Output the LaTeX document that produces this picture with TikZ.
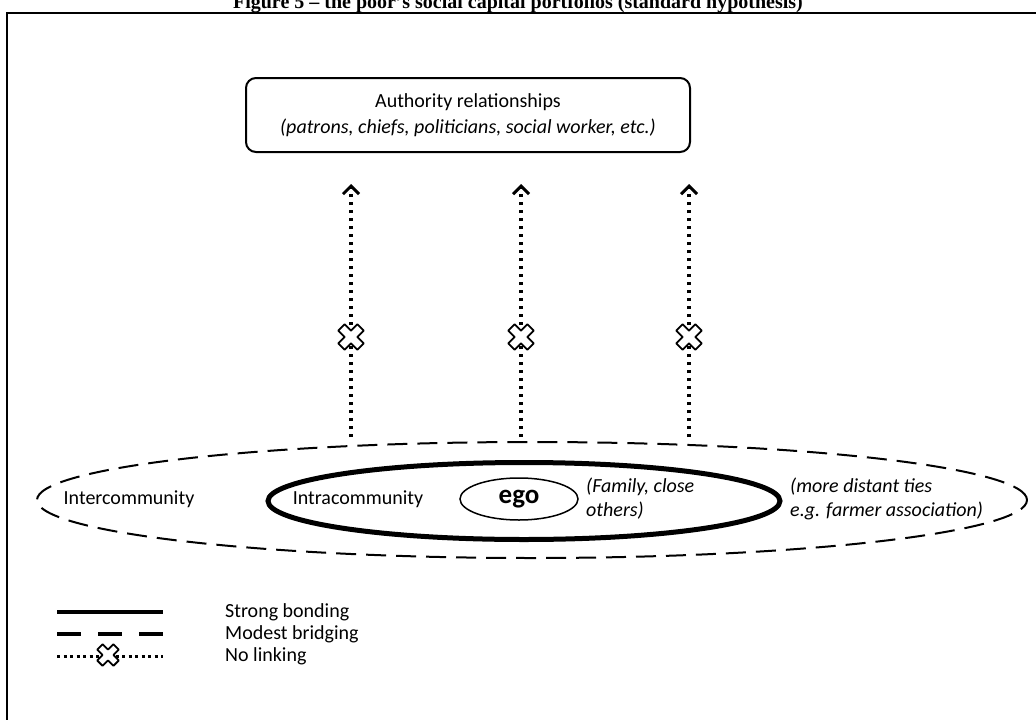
\documentclass[tikz,border=0pt]{standalone}
\usepackage{fontspec}
\setmainfont{Carlito}
\newfontfamily\titlefont[Ligatures=TeX]{Liberation Serif}
\usetikzlibrary{shapes.geometric,arrows.meta}

\tikzset{
  txt/.style={font=\fontsize{20}{24}\selectfont, inner sep=0pt},
  itxt/.style={txt, font=\fontsize{20}{24}\selectfont\itshape, align=left},
  authbox/.style={draw, line width=2pt, rounded corners=10pt, minimum width=444pt,
    minimum height=74pt, align=center, inner sep=0pt, font=\fontsize{20}{26}\selectfont},
  bridgering/.style={draw, ellipse, line width=2pt, dash pattern=on 20pt off 10pt,
    inner sep=0pt},
  bondring/.style={draw, ellipse, line width=5pt, inner sep=0pt},
  egoring/.style={draw, ellipse, line width=1.5pt, inner sep=0pt,
    font=\fontsize{27}{30}\selectfont\bfseries},
  linkarrow/.style={line width=3.5pt, dash pattern=on 3.5pt off 4.5pt,
    -{Straight Barb[length=8pt,width=16pt,line width=3pt]}},
  nolink/.pic={
    % a plus sign turned by 45 degrees, white inside
    \filldraw[solid, fill=white, line width=1.8pt, line join=round, rotate=45]
      (-4.5,13.5) -- (4.5,13.5) -- (4.5,4.5) -- (13.5,4.5) -- (13.5,-4.5) -- (4.5,-4.5)
      -- (4.5,-13.5) -- (-4.5,-13.5) -- (-4.5,-4.5) -- (-13.5,-4.5) -- (-13.5,4.5)
      -- (-4.5,4.5) -- cycle;
  },
}

\begin{document}
\begin{tikzpicture}[x=1pt,y=-1pt]
\useasboundingbox (0,0) rectangle (1036,720);
\clip (0,0) rectangle (1036,720);

% caption and frame
\node[anchor=base, inner sep=0pt, font=\titlefont\bfseries\fontsize{20}{24}\selectfont]
  (title) at (518,9) {Figure 5 – the poor's social capital portfolios (standard hypothesis)};
\draw[line width=2pt] (7,13) rectangle (1060,760);

% authority relationships
\node[authbox] (auth) at (468,115)
  {Authority relationships\\ \textit{(patrons, chiefs, politicians, social worker, etc.)}};

% community rings
\node[bridgering, minimum width=990pt, minimum height=116pt] (inter) at (532,500) {};
\node[bondring, minimum width=512pt, minimum height=77pt] (intra) at (524,501) {};
\node[egoring, minimum width=118pt, minimum height=42pt] (ego) at (519,499) {ego};

\node[txt] (intertxt) at (129,499) {Intercommunity};
\node[txt] (intratxt) at (358,499) {Intracommunity};
\node[itxt, anchor=west] (family) at (586,499) {(Family, close\\others)};
\node[itxt, anchor=west] (distant) at (790,499) {(more distant ties\\e.g. farmer association)};

% blocked links towards authority
\foreach \i/\x in {1/351, 2/521, 3/689} {
  \coordinate (s\i) at (\x,437);
  \coordinate (t\i) at (\x,184);
  \draw[linkarrow] (s\i) -- (t\i);
  \pic (x\i) at (\x,337) {nolink};
}

% legend
\coordinate (la1) at (57,612);  \coordinate (lb1) at (163,612);
\coordinate (la2) at (57,634);  \coordinate (lb2) at (163,634);
\coordinate (la3) at (57,656);  \coordinate (lb3) at (163,656);
\draw[line width=3.5pt] (la1) -- (lb1);
\draw[line width=3.5pt, dash pattern=on 24pt off 17pt] (la2) -- (lb2);
\draw[line width=3pt, dash pattern=on 3pt off 3.5pt] (la3) -- (lb3);
\pic[scale=0.85] (xl) at (108,655) {nolink};
\node[txt, anchor=west] (leg1) at (225,612) {Strong bonding};
\node[txt, anchor=west] (leg2) at (225,634) {Modest bridging};
\node[txt, anchor=west] (leg3) at (225,656) {No linking};
\end{tikzpicture}
\end{document}
